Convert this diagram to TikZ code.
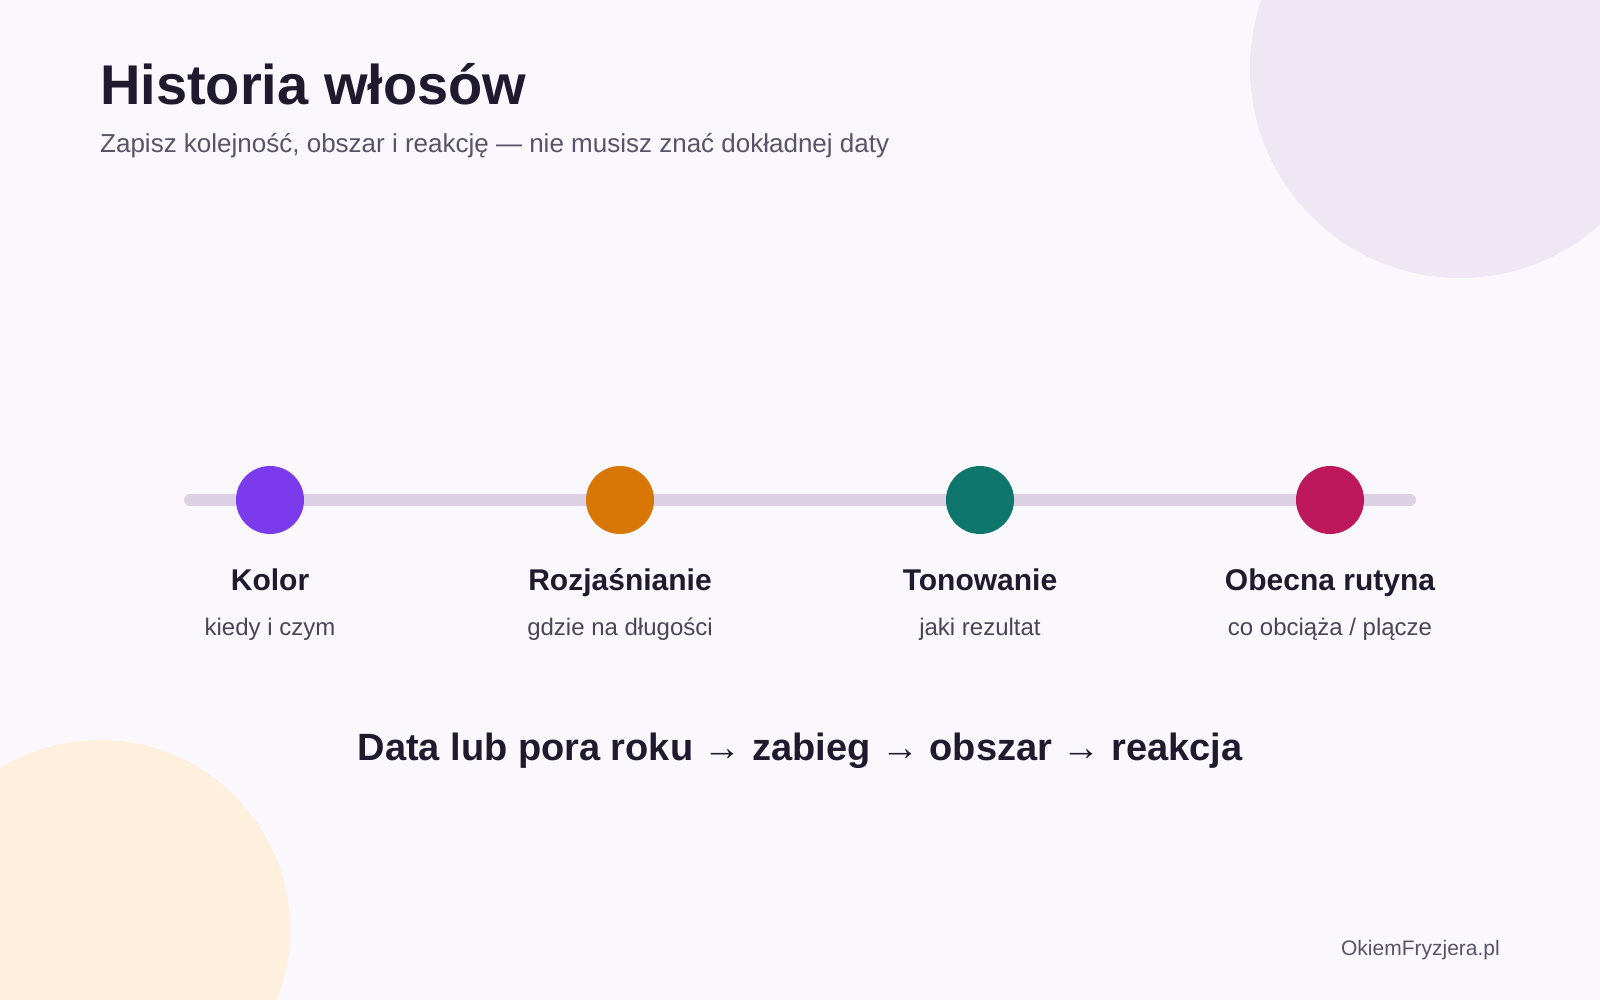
\documentclass[tikz,border=0pt]{standalone}
\usepackage{fontspec}
\setmainfont{Liberation Sans}
\definecolor{bg}{HTML}{FAF7FD}
\definecolor{lav}{HTML}{F0E7F5}
\definecolor{peach}{HTML}{FFF0DE}
\definecolor{track}{HTML}{DCD0E4}
\definecolor{ink}{HTML}{1F1A2E}
\definecolor{subink}{HTML}{5A5368}
\definecolor{stepink}{HTML}{4A4556}
\definecolor{cpurple}{HTML}{7C3AED}
\definecolor{corange}{HTML}{D97706}
\definecolor{cteal}{HTML}{0F766E}
\definecolor{cpink}{HTML}{BE185D}
\tikzset{
  dot/.style={circle, minimum size=68pt, inner sep=0pt, draw=none},
  steptitle/.style={anchor=base, inner sep=0pt, text=ink, font=\fontsize{30}{36}\selectfont\bfseries},
  stepsub/.style={anchor=base, inner sep=0pt, text=stepink, font=\fontsize{24}{28}\selectfont},
}
\begin{document}
\begin{tikzpicture}[x=1pt,y=-1pt]
\path[use as bounding box, fill=bg] (0,0) rectangle (1600,1000);
\begin{scope}
\clip (0,0) rectangle (1600,1000);
\fill[lav] (1460,68) circle[radius=210pt];
\fill[peach] (100,930) circle[radius=190pt];
\end{scope}
\node[anchor=base west, inner sep=0pt, text=ink, font=\fontsize{56}{64}\selectfont\bfseries] (title) at (100,105) {Historia włosów};
\node[anchor=base west, inner sep=0pt, text=subink, font=\fontsize{26}{30}\selectfont] (subtitle) at (100,153) {Zapisz kolejność, obszar i reakcję — nie musisz znać dokładnej daty};
\coordinate (tl) at (190,500);
\coordinate (tr) at (1410,500);
\draw[track, line width=12pt, line cap=round] (tl) -- (tr);
\node[dot, fill=cpurple] (d1) at (270,500) {};
\node[dot, fill=corange] (d2) at (620,500) {};
\node[dot, fill=cteal] (d3) at (980,500) {};
\node[dot, fill=cpink] (d4) at (1330,500) {};
\node[steptitle] (t1) at (270,590) {Kolor};
\node[steptitle] (t2) at (620,590) {Rozjaśnianie};
\node[steptitle] (t3) at (980,590) {Tonowanie};
\node[steptitle] (t4) at (1330,590) {Obecna rutyna};
\node[stepsub] (s1) at (270,635) {kiedy i czym};
\node[stepsub] (s2) at (620,635) {gdzie na długości};
\node[stepsub] (s3) at (980,635) {jaki rezultat};
\node[stepsub] (s4) at (1330,635) {co obciąża / plącze};
\node[anchor=base, inner sep=0pt, text=ink, font=\fontsize{38}{44}\selectfont\bfseries] (formula) at (800,760) {Data lub pora roku → zabieg → obszar → reakcja};
\node[anchor=base east, inner sep=0pt, text=subink, font=\fontsize{21}{25}\selectfont] (footer) at (1500,955) {OkiemFryzjera.pl};
\end{tikzpicture}
\end{document}
